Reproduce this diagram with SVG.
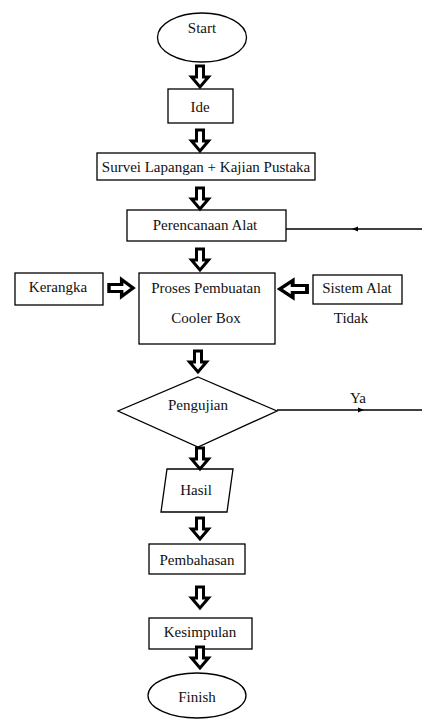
<svg xmlns="http://www.w3.org/2000/svg" xmlns:xlink="http://www.w3.org/1999/xlink" width="422" height="725" viewBox="0 0 422 725">
<style>
.shape{fill:#fff;stroke:#000;stroke-width:1.3}
.t{font-family:'Liberation Serif','DejaVu Serif',serif;font-size:15px;fill:#111;text-anchor:middle}
.ln{stroke:#000;stroke-width:1.3;fill:none}
.blk{fill:#fff;stroke:#000;stroke-width:3;stroke-linejoin:miter}
</style>
<defs>
<path id="dn" class="blk" d="M-3.5,0 H3.5 V11 H8.5 L0,21 L-8.5,11 H-3.5 Z"/>
</defs>
<rect width="422" height="725" fill="#fff"/>
<g id="start"><ellipse class="shape" cx="202" cy="37.5" rx="44.5" ry="24.5"/><text class="t" x="202" y="33">Start</text></g>
<g id="ide"><rect class="shape" x="168" y="89" width="65" height="34"/><text class="t" x="200" y="112">Ide</text></g>
<g id="survei"><rect class="shape" x="97" y="153" width="218" height="27"/><text class="t" x="206" y="172">Survei Lapangan + Kajian Pustaka</text></g>
<g id="perencanaan"><rect class="shape" x="127" y="210" width="159" height="31"/><text class="t" x="205" y="230">Perencanaan Alat</text></g>
<g id="kerangka"><rect class="shape" x="15" y="273" width="88" height="32"/><text class="t" x="58" y="292">Kerangka</text></g>
<g id="proses"><rect class="shape" x="139" y="273" width="136" height="71"/><text class="t" x="206" y="293">Proses Pembuatan</text><text class="t" x="206" y="323">Cooler Box</text></g>
<g id="sistem"><rect class="shape" x="313" y="275" width="89" height="29"/><text class="t" x="357" y="293">Sistem Alat</text></g>
<g id="pengujian"><polygon class="shape" points="198,377 277,411 198,447 118,411"/><text class="t" x="198" y="410">Pengujian</text></g>
<g id="hasil"><polygon class="shape" points="167,469 233,469 227,512 161,512"/><text class="t" x="196" y="495">Hasil</text></g>
<g id="pembahasan"><rect class="shape" x="149" y="544" width="96" height="30"/><text class="t" x="197" y="565">Pembahasan</text></g>
<g id="kesimpulan"><rect class="shape" x="149" y="618" width="103" height="31"/><text class="t" x="200" y="637">Kesimpulan</text></g>
<g id="finish"><ellipse class="shape" cx="197" cy="695.5" rx="49" ry="22.5"/><text class="t" x="197" y="702">Finish</text></g>
<g id="connectors">
<use xlink:href="#dn" transform="translate(200,66)"/>
<use xlink:href="#dn" transform="translate(200,130)"/>
<use xlink:href="#dn" transform="translate(200,188)"/>
<use xlink:href="#dn" transform="translate(200,249)"/>
<use xlink:href="#dn" transform="translate(198,351)"/>
<use xlink:href="#dn" transform="translate(200,448)"/>
<use xlink:href="#dn" transform="translate(200,518)"/>
<use xlink:href="#dn" transform="translate(200,587)"/>
<use xlink:href="#dn" transform="translate(200,647)"/>
<use xlink:href="#dn" transform="translate(109,288) rotate(-90) scale(1,1.15)"/>
<use xlink:href="#dn" transform="translate(307,289) rotate(90) scale(1,1.3)"/>
<line class="ln" x1="286" y1="229" x2="422" y2="229"/>
<polygon points="352,229 358,226.5 358,231.5" fill="#000"/>
<line class="ln" x1="277" y1="410" x2="422" y2="410"/>
<polygon points="364,410 358,407.5 358,412.5" fill="#000"/>
<text class="t" x="351" y="323">Tidak</text>
<text class="t" x="358" y="403">Ya</text>
</g>
</svg>
